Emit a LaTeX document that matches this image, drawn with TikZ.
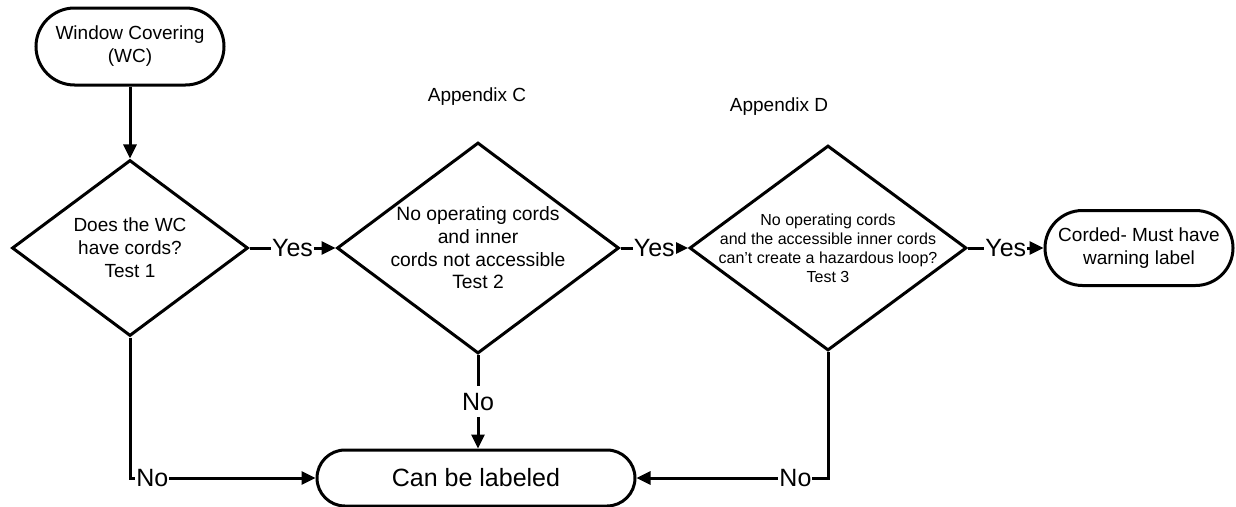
\documentclass[tikz,border=0pt]{standalone}
\usepackage{fontspec}
\setmainfont{Liberation Sans}
\usetikzlibrary{arrows.meta,shapes.geometric}
\begin{document}
\begin{tikzpicture}[x=1pt,y=-1pt,
  term/.style={draw, line width=3pt, rectangle, inner sep=0pt, align=center},
  dec/.style={draw, line width=3pt, diamond, inner sep=0pt},
  txt/.style={align=center, inner sep=0pt},
  lbl/.style={fill=white, inner xsep=1pt, inner ysep=7pt, font=\fontsize{25}{30}\selectfont},
  conn/.style={line width=3pt},
  arr/.style={conn, -{Triangle[length=14pt,width=13pt]}},
  f19/.style={font=\fontsize{19}{23}\selectfont},
]
\useasboundingbox (0,0) rectangle (1236,506);

% terminators
\node[term, f19, minimum width=188pt, minimum height=77pt, rounded corners=38.5pt] (wc) at (130,46.5) {Window Covering\\(WC)};
\node[term, f19, minimum width=188pt, minimum height=75pt, rounded corners=37.5pt] (cord) at (1139,248) {Corded- Must have\\warning label};
\node[term, font=\fontsize{25}{30}\selectfont, minimum width=318pt, minimum height=56pt, rounded corners=28pt] (can) at (476,478) {Can be labeled};

% decisions
\node[dec, minimum width=236pt, minimum height=176pt] (d1) at (130,248) {};
\node[dec, minimum width=282pt, minimum height=211pt] (d2) at (478,248) {};
\node[dec, minimum width=277pt, minimum height=205pt] (d3) at (828,248) {};

\node[txt, f19] (t1) at (d1) {Does the WC\\have cords?\\Test 1};
\node[txt, font=\fontsize{19.3}{22.7}\selectfont] (t2) at (d2) {No operating cords\\and inner\\cords not accessible\\Test 2};
\node[txt, font=\fontsize{16}{19}\selectfont] (t3) at (d3) {No operating cords\\and the accessible inner cords\\can’t create a hazardous loop?\\Test 3};

% appendix labels
\node[txt, f19] (appc) at (477,97) {Appendix C};
\node[txt, f19] (appd) at (779,107) {Appendix D};

% connectors
\draw[arr] (wc) -- (d1);
\draw[arr] (d1) -- node[lbl]{Yes} (d2);
\draw[arr] (d2) -- node[lbl]{Yes} (d3);
\draw[arr] (d3) -- node[lbl]{Yes} (cord);
\draw[arr] (d1.south) |- node[lbl, pos=0.56]{No} (can.west);
\draw[arr] (d2.south) -- node[lbl]{No} (d2.south |- can.north);
\draw[arr] (d3.south) |- node[lbl, pos=0.585]{No} (can.east);
\end{tikzpicture}
\end{document}
